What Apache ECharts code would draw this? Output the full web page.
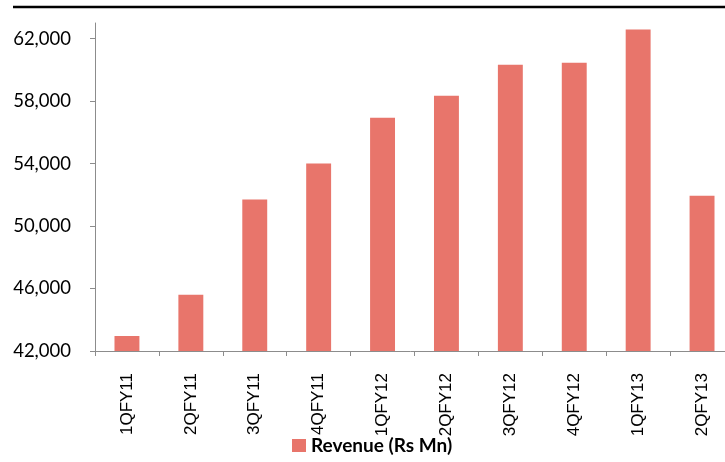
<!DOCTYPE html>
<html>
<head>
<meta charset="utf-8">
<script src="https://cdn.jsdelivr.net/npm/echarts@6/dist/echarts.min.js"></script>
<style>
  html, body { margin: 0; padding: 0; background: #fff; }
  #chart { width: 725px; height: 462px; }
</style>
</head>
<body>
<div id="chart"></div>
<script>
// quarters and revenue (Rs Mn)
var quarters = ["1QFY11", "2QFY11", "3QFY11", "4QFY11", "1QFY12", "2QFY12", "3QFY12", "4QFY12", "1QFY13", "2QFY13"];
var revenue = [42960, 45600, 51700, 54000, 56940, 58350, 60330, 60460, 62580, 51940];
var yTicks = [42000, 46000, 50000, 54000, 58000, 62000];

var myChart = echarts.init(document.getElementById("chart"));

var option = {
    animation: false,
    backgroundColor: "#fff",
    graphic: [
        {
            type: "line",
            shape: { x1: 13, y1: 7, x2: 725, y2: 7 },
            style: { stroke: "#000", lineWidth: 2.5 },
        },
    ],
    legend: {
        left: 287,
        bottom: 2,
        itemWidth: 14,
        itemHeight: 13,
        itemGap: 4,
        icon: "rect",
        textStyle: {
            fontFamily: "Lato",
            fontWeight: "bold",
            fontSize: 19,
            color: "#000",
        },
    },
    grid: {
        left: 95,
        width: 639,
        top: 23,
        bottom: 111,
        containLabel: false,
        outerBoundsMode: "none",
    },
    xAxis: {
        type: "category",
        data: quarters,
        axisLine: { lineStyle: { color: "#8c8c8c", width: 1 } },
        axisTick: { show: true, length: 5, lineStyle: { color: "#8c8c8c" } },
        axisLabel: {
            rotate: 90,
            margin: 22,
            fontFamily: "Liberation Sans",
            fontSize: 17,
            color: "#000",
        },
    },
    yAxis: {
        type: "value",
        min: 42000,
        max: 63000,
        interval: 4000,
        splitLine: { show: false },
        axisLine: { show: true, lineStyle: { color: "#8c8c8c", width: 1 } },
        axisTick: { show: true, length: 5, customValues: yTicks, lineStyle: { color: "#8c8c8c" } },
        axisLabel: {
            customValues: yTicks,
            margin: 24,
            fontFamily: "Lato",
            fontSize: 18.5,
            color: "#000",
            formatter: function (v) {
                return v.toLocaleString("en-US");
            },
        },
    },
    series: [
        {
            name: "Revenue (Rs Mn)",
            type: "bar",
            data: revenue,
            barWidth: "39%",
            itemStyle: { color: "#E8756B" },
        },
    ],
};
myChart.setOption(option);
</script>
</body>
</html>
